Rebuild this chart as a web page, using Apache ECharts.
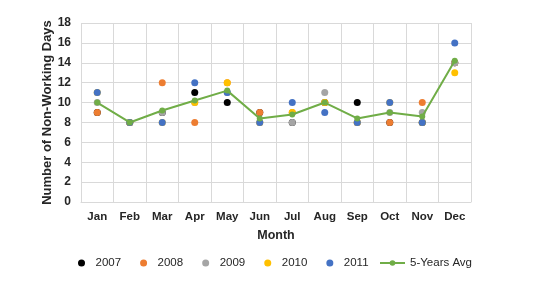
<!DOCTYPE html>
<html><head><meta charset="utf-8">
<script src="https://cdn.jsdelivr.net/npm/echarts@6/dist/echarts.min.js"></script>
<style>html,body{margin:0;padding:0;background:#fff}#c{width:544px;height:286px}</style>
</head><body><div id="c"></div>
<script>
var months = ['Jan','Feb','Mar','Apr','May','Jun','Jul','Aug','Sep','Oct','Nov','Dec'];
var y2007 = [9, 8, 9, 11, 10, 9, 8, 10, 10, 8, 8, 14];
var y2008 = [9, 8, 12, 8, 12, 9, 9, 10, 8, 8, 10, 14];
var y2009 = [10, 8, 9, 10, 11, 8, 8, 11, 8, 9, 9, 14];
var y2010 = [11, 8, 8, 10, 12, 8, 9, 10, 8, 10, 8, 13];
var y2011 = [11, 8, 8, 12, 11, 8, 10, 9, 8, 10, 8, 16];
var avg5 = [10, 8, 9.2, 10.2, 11.2, 8.4, 8.8, 10, 8.4, 9, 8.6, 14.2];
var yTicks = {min: 0, max: 18, interval: 2};

var font = 'Liberation Sans, Arial, sans-serif';
function sc(name, data, color) {
  return {name: name, type: 'scatter', data: data, symbol: 'circle', symbolSize: 7,
    itemStyle: {color: color, opacity: 1}, z: 2};
}
var legText = {fontSize: 11.5, color: '#262626', fontFamily: font};
var chart = echarts.init(document.getElementById('c'), null, {renderer: 'canvas'});
chart.setOption({
  animation: false,
  textStyle: {fontFamily: font},
  grid: {left: 81, right: 73, top: 23, bottom: 84},
  xAxis: {
    type: 'category', data: months, boundaryGap: true,
    name: 'Month', nameLocation: 'middle', nameGap: 27, nameMoveOverlap: false,
    nameTextStyle: {fontWeight: 'bold', fontSize: 12.5, color: '#262626', fontFamily: font},
    axisLine: {lineStyle: {color: '#d9d9d9'}},
    axisTick: {show: false},
    axisLabel: {fontWeight: 'bold', fontSize: 11.5, color: '#262626', margin: 9, fontFamily: font},
    splitLine: {show: true, lineStyle: {color: '#d9d9d9', width: 1}}
  },
  yAxis: {
    type: 'value', min: yTicks.min, max: yTicks.max, interval: yTicks.interval,
    name: 'Number of Non-Working Days', nameLocation: 'middle', nameGap: 27, nameMoveOverlap: false,
    nameTextStyle: {fontWeight: 'bold', fontSize: 13, color: '#262626', fontFamily: font},
    axisLine: {show: false}, axisTick: {show: false},
    axisLabel: {fontWeight: 'bold', fontSize: 12, color: '#262626', margin: 10, fontFamily: font},
    splitLine: {show: true, lineStyle: {color: '#d9d9d9', width: 1}}
  },
  legend: [{
    top: 257, left: 78, padding: 0, itemGap: 19, itemWidth: 18, itemHeight: 7,
    textStyle: legText,
    data: ['2007','2008','2009','2010','2011']
  }, {
    top: 257, left: 379, padding: 0, itemGap: 13, itemWidth: 25, itemHeight: 7,
    textStyle: legText,
    data: ['5-Years Avg']
  }],
  series: [
    sc('2007', y2007, '#000000'),
    sc('2008', y2008, '#ED7D31'),
    sc('2009', y2009, '#A5A5A5'),
    sc('2010', y2010, '#FFC000'),
    sc('2011', y2011, '#4472C4'),
    {name: '5-Years Avg', type: 'line', data: avg5, symbol: 'circle', symbolSize: 6,
      showAllSymbol: true,
      lineStyle: {color: '#70AD47', width: 2}, itemStyle: {color: '#70AD47', opacity: 1}, z: 5}
  ]
});
</script></body></html>
